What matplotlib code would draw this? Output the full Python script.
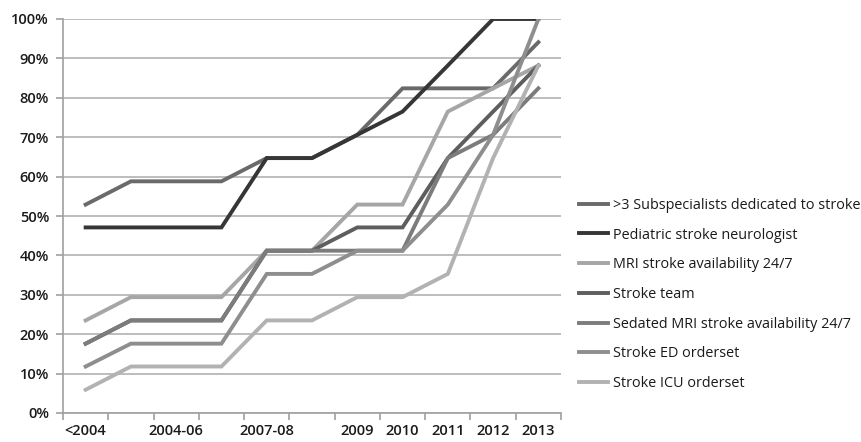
import matplotlib.pyplot as plt
from matplotlib.ticker import FixedLocator, PercentFormatter

plt.rcParams['font.family'] = ['Open Sans', 'DejaVu Sans']

categories = ['<2004', '', '2004-06', '', '2007-08', '', '2009', '2010', '2011', '2012', '2013']

subspecialists = [52.9, 58.8, 58.8, 58.8, 64.7, 64.7, 70.6, 82.4, 82.4, 82.4, 94.1]
ped_neurologist = [47.1, 47.1, 47.1, 47.1, 64.7, 64.7, 70.6, 76.5, 88.2, 100, 100]
mri_247 = [23.5, 29.4, 29.4, 29.4, 41.2, 41.2, 52.9, 52.9, 76.5, 82.4, 88.2]
stroke_team = [17.6, 23.5, 23.5, 23.5, 41.2, 41.2, 47.1, 47.1, 64.7, 76.5, 88.2]
sedated_mri = [17.6, 23.5, 23.5, 23.5, 41.2, 41.2, 41.2, 41.2, 64.7, 70.6, 82.4]
ed_orderset = [11.8, 17.6, 17.6, 17.6, 35.3, 35.3, 41.2, 41.2, 52.9, 70.6, 100]
icu_orderset = [5.9, 11.8, 11.8, 11.8, 23.5, 23.5, 29.4, 29.4, 35.3, 64.7, 88.2]

series = [
    ('>3 Subspecialists dedicated to stroke', subspecialists, '#6a6a6a'),
    ('Pediatric stroke neurologist', ped_neurologist, '#363636'),
    ('MRI stroke availability 24/7', mri_247, '#a6a6a6'),
    ('Stroke team', stroke_team, '#5e5e5e'),
    ('Sedated MRI stroke availability 24/7', sedated_mri, '#7c7c7c'),
    ('Stroke ED orderset', ed_orderset, '#8e8e8e'),
    ('Stroke ICU orderset', icu_orderset, '#b2b2b2'),
]

fig = plt.figure(figsize=(8.61, 4.42), dpi=100)
ax = fig.add_axes([63 / 861, 1 - 413 / 442, 498 / 861, 394 / 442])

x = list(range(len(categories)))
for name, vals, col in series:
    ax.plot(x, vals, color=col, lw=2.8, label=name, solid_joinstyle='miter')

ax.set_xlim(-0.5, len(categories) - 0.5)
ax.set_ylim(0, 100)
ax.set_yticks(range(0, 101, 10))
ax.yaxis.set_major_formatter(PercentFormatter(decimals=0))
ax.yaxis.grid(True, color='#b8b8b8', lw=1.3)
ax.set_axisbelow(True)

ax.set_xticks(x)
ax.set_xticklabels(categories)
ax.xaxis.set_minor_locator(FixedLocator([i - 0.5 for i in range(len(categories) + 1)]))
ax.tick_params(axis='x', which='major', length=0, pad=8)
ax.tick_params(axis='x', which='minor', length=5, width=1.2, color='#a0a0a0')
ax.tick_params(axis='y', length=5, width=1.2, color='#a0a0a0', pad=5)
ax.tick_params(labelsize=10.5, labelcolor='#1a1a1a')
for lab in ax.get_xticklabels() + ax.get_yticklabels():
    lab.set_fontweight('semibold')

for s in ['top', 'right']:
    ax.spines[s].set_visible(False)
for s in ['left', 'bottom']:
    ax.spines[s].set_color('#a0a0a0')
    ax.spines[s].set_linewidth(1.2)

fig.legend(loc='center left', bbox_to_anchor=(566 / 861, 1 - 294.5 / 442), frameon=False,
           fontsize=10.4, handlelength=2.0, handletextpad=0.35, labelspacing=1.02,
           labelcolor='#1a1a1a')

fig.savefig('out.png', dpi=100)
